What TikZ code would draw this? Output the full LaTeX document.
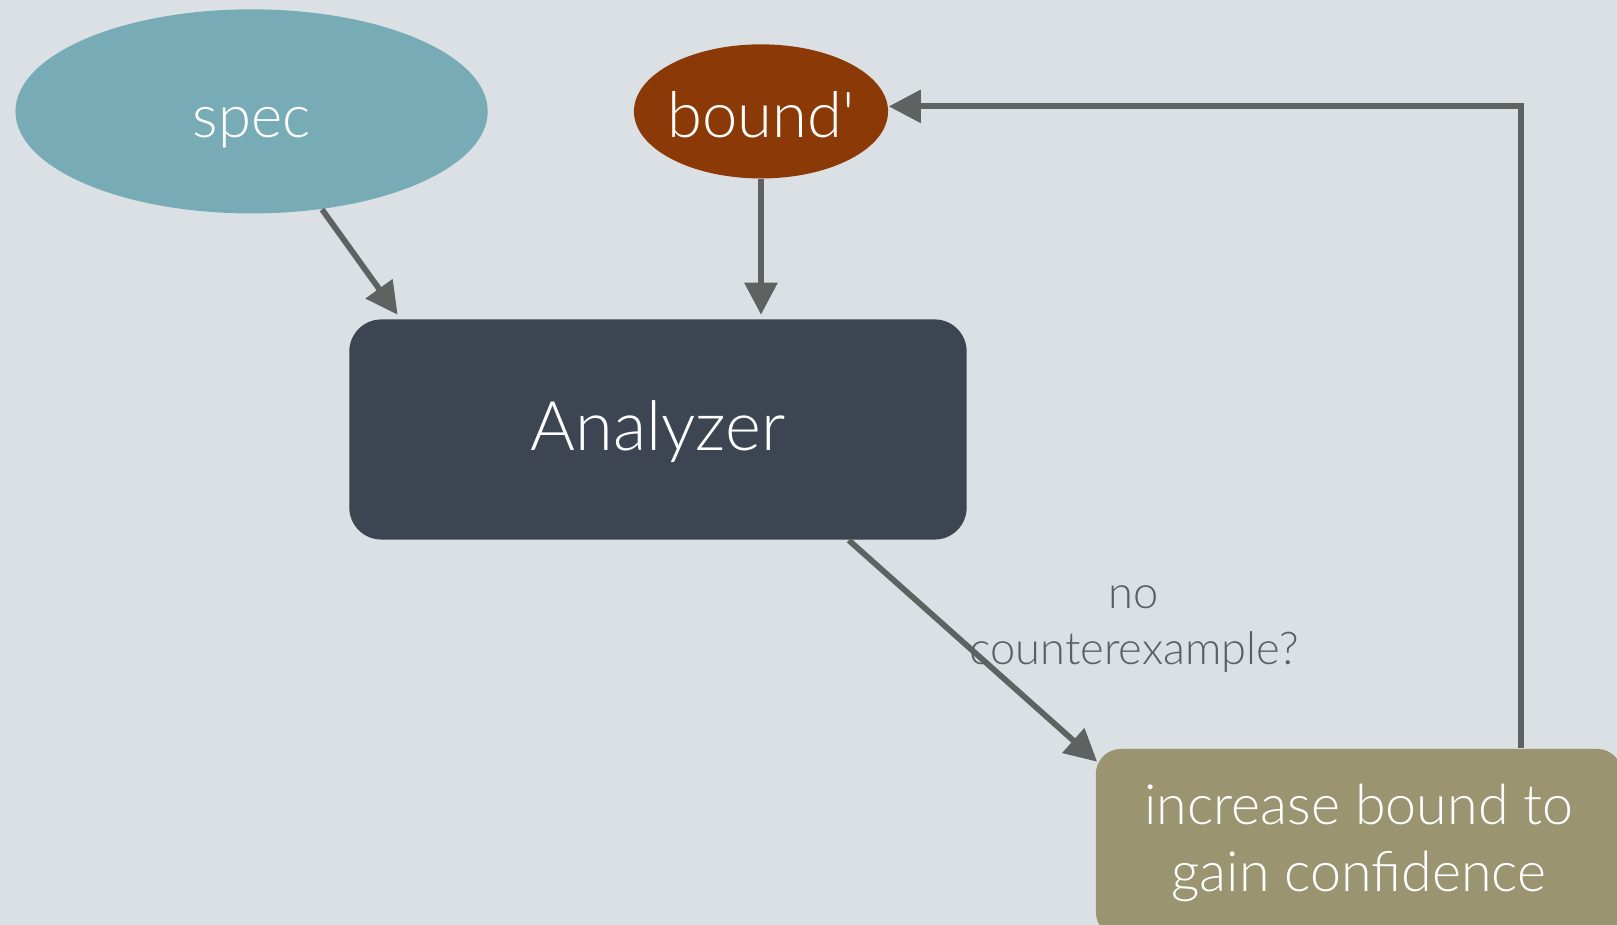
\documentclass[tikz,border=0pt]{standalone}
\usepackage{fontspec}
\setmainfont{Lato}[UprightFont={* Light}, Ligatures=TeXOff]
\usetikzlibrary{shapes.geometric,arrows.meta}
\definecolor{bgc}{HTML}{DBE0E4}
\definecolor{specc}{HTML}{77ABB5}
\definecolor{boundc}{HTML}{8B3906}
\definecolor{anac}{HTML}{3D4452}
\definecolor{incc}{HTML}{9A9470}
\definecolor{arrc}{HTML}{5E6362}
\definecolor{lblc}{HTML}{5A5F62}
\tikzset{
  oval/.style={ellipse, draw=none, text=white, inner sep=0pt, text width=0pt, align=center,
               text height=14.7pt, text depth=0pt},
  box/.style={rectangle, draw=none, text=white, inner sep=0pt},
  arr/.style={draw=arrc, line width=1.65pt, -{Triangle[length=0.32cm,width=0.32cm]}},
}
\begin{document}
\begin{tikzpicture}[x=0.01cm,y=-0.01cm]
  \useasboundingbox (0,0) rectangle (1617,925);
  \fill[bgc] (0,0) rectangle (1617,925);
  \begin{scope}
    \clip (0,0) rectangle (1617,925);
    % inputs
    \node[oval, fill=specc, minimum width=4.72cm, minimum height=2.04cm,
          font=\fontsize{17}{20}\selectfont] (spec) at (251.6,111.4) {\makebox[0pt]{spec}};
    \node[oval, fill=boundc, minimum width=2.54cm, minimum height=1.34cm,
          font=\fontsize{18}{21}\selectfont] (bound) at (761,111.4) {\makebox[0pt]{bound'}};
    % analyzer
    \node[box, fill=anac, rounded corners=0.32cm, minimum width=6.17cm, minimum height=2.2cm,
          text height=15pt, text depth=3pt,
          font=\fontsize{19.5}{23}\selectfont] (ana) at (658,429.5) {Analyzer};
    % follow-up step
    \node[box, fill=incc, rounded corners=0.25cm, minimum width=5.26cm, minimum height=1.88cm,
          align=center, font=\fontsize{15.8}{19.2}\selectfont] (inc) at (1359,843)
          {increase bound to\\gain confidence};
  \end{scope}
  % connectors
  \draw[arr] (spec) -- ([xshift=0.49cm,yshift=0.04cm]ana.north west);
  \draw[arr, shorten >=0.04cm] (bound) -- (bound |- ana.north);
  \draw[arr] ([xshift=1.907cm]ana.south) -- ([xshift=0.02cm,yshift=-0.135cm]inc.north west);
  \draw[arr] ([xshift=1.62cm]inc.north) |- ([yshift=0.05cm]bound.east);
  % edge label
  \node[text=lblc, align=center, inner sep=0pt, font=\fontsize{12.85}{16}\selectfont]
    (lbl) at (1134,629) {no\\counterexample?};
\end{tikzpicture}
\end{document}
